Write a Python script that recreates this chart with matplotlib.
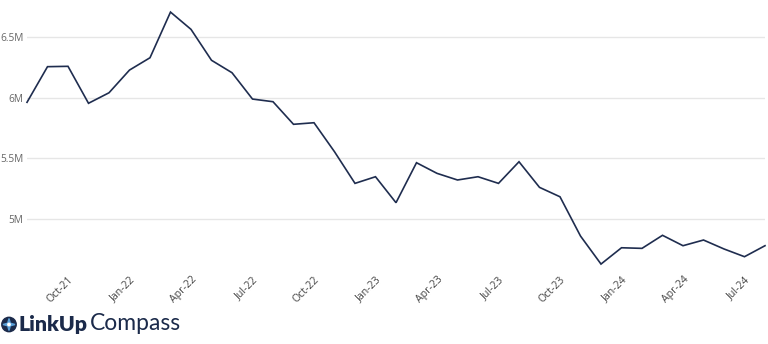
import matplotlib
matplotlib.use("Agg")
import matplotlib.pyplot as plt
from matplotlib.patches import Circle, Polygon
import numpy as np

months = ["Aug-21", "Sep-21", "Oct-21", "Nov-21", "Dec-21", "Jan-22", "Feb-22", "Mar-22",
          "Apr-22", "May-22", "Jun-22", "Jul-22", "Aug-22", "Sep-22", "Oct-22", "Nov-22",
          "Dec-22", "Jan-23", "Feb-23", "Mar-23", "Apr-23", "May-23", "Jun-23", "Jul-23",
          "Aug-23", "Sep-23", "Oct-23", "Nov-23", "Dec-23", "Jan-24", "Feb-24", "Mar-24",
          "Apr-24", "May-24", "Jun-24", "Jul-24", "Aug-24"]
values_m = [5.962, 6.257, 6.260, 5.954, 6.041, 6.229, 6.331, 6.709, 6.566, 6.310,
            6.207, 5.989, 5.967, 5.780, 5.793, 5.553, 5.291, 5.346, 5.131, 5.462,
            5.374, 5.319, 5.346, 5.291, 5.470, 5.258, 5.180, 4.855, 4.623, 4.758,
            4.753, 4.861, 4.775, 4.822, 4.748, 4.684, 4.775]
tick_labels = ["Oct-21", "Jan-22", "Apr-22", "Jul-22", "Oct-22", "Jan-23", "Apr-23",
               "Jul-23", "Oct-23", "Jan-24", "Apr-24", "Jul-24"]
y_ticks = [5.0, 5.5, 6.0, 6.5]
y_tick_labels = ["5M", "5.5M", "6M", "6.5M"]

W, H = 768, 344
fig = plt.figure(figsize=(W / 100, H / 100), dpi=100)
ax = fig.add_axes([27 / W, (H - 266) / H, (765 - 27) / W, 266 / H])

x = np.arange(len(months))
values = np.array(values_m) * 1e6
ax.plot(x, values, color="#1f2d4f", lw=1.2, solid_joinstyle="miter", clip_on=False, zorder=3)

ax.set_xlim(0, len(months) - 1)
ax.set_ylim(4.607e6, 6.809e6)

ax.set_yticks([v * 1e6 for v in y_ticks])
ax.set_yticklabels(y_tick_labels)
ax.grid(axis="y", color="#e6e6e6", lw=1)
ax.set_axisbelow(True)

tick_pos = [months.index(t) for t in tick_labels]
ax.set_xticks(tick_pos)
ax.set_xticklabels(tick_labels, rotation=45, ha="right", va="top", rotation_mode="anchor")

for s in ax.spines.values():
    s.set_visible(False)
ax.tick_params(axis="both", length=0)
ax.tick_params(axis="y", pad=2.5, labelsize=7.3, labelcolor="#666666")
ax.tick_params(axis="x", pad=6, labelsize=7.6, labelcolor="#444444")
for lbl in ax.get_xticklabels() + ax.get_yticklabels():
    lbl.set_fontfamily("Open Sans")

# Logo
lax = fig.add_axes([0, 0, 1, 1], zorder=5)
lax.set_xlim(0, W)
lax.set_ylim(H, 0)
lax.axis("off")
lax.add_patch(Circle((9, 324.5), 7.2, color="#1b2a4a"))
star = [(9, 318.5), (10.3, 323.2), (15, 324.5), (10.3, 325.8), (9, 330.5), (7.7, 325.8),
        (3, 324.5), (7.7, 323.2)]
lax.add_patch(Polygon(star, closed=True, color="#5aa0d8"))
lax.add_patch(Circle((9, 324.5), 1.2, color="#ffffff"))

renderer = fig.canvas.get_renderer()


def fit_text(xpix, text, target_w, **kw):
    t = fig.text(xpix / W, (H - 330.5) / H, text, va="baseline", ha="left", **kw)
    w = t.get_window_extent(renderer).width
    t.set_fontsize(t.get_fontsize() * target_w / w)
    return t


fit_text(19, "LinkUp", 69, fontsize=14, fontweight="heavy", family="Lato", color="#1b2a4a")
fit_text(90, "Compass", 91, fontsize=14, fontweight="normal", family="Lato", color="#1b2a4a")

fig.savefig("out.png", dpi=100)
